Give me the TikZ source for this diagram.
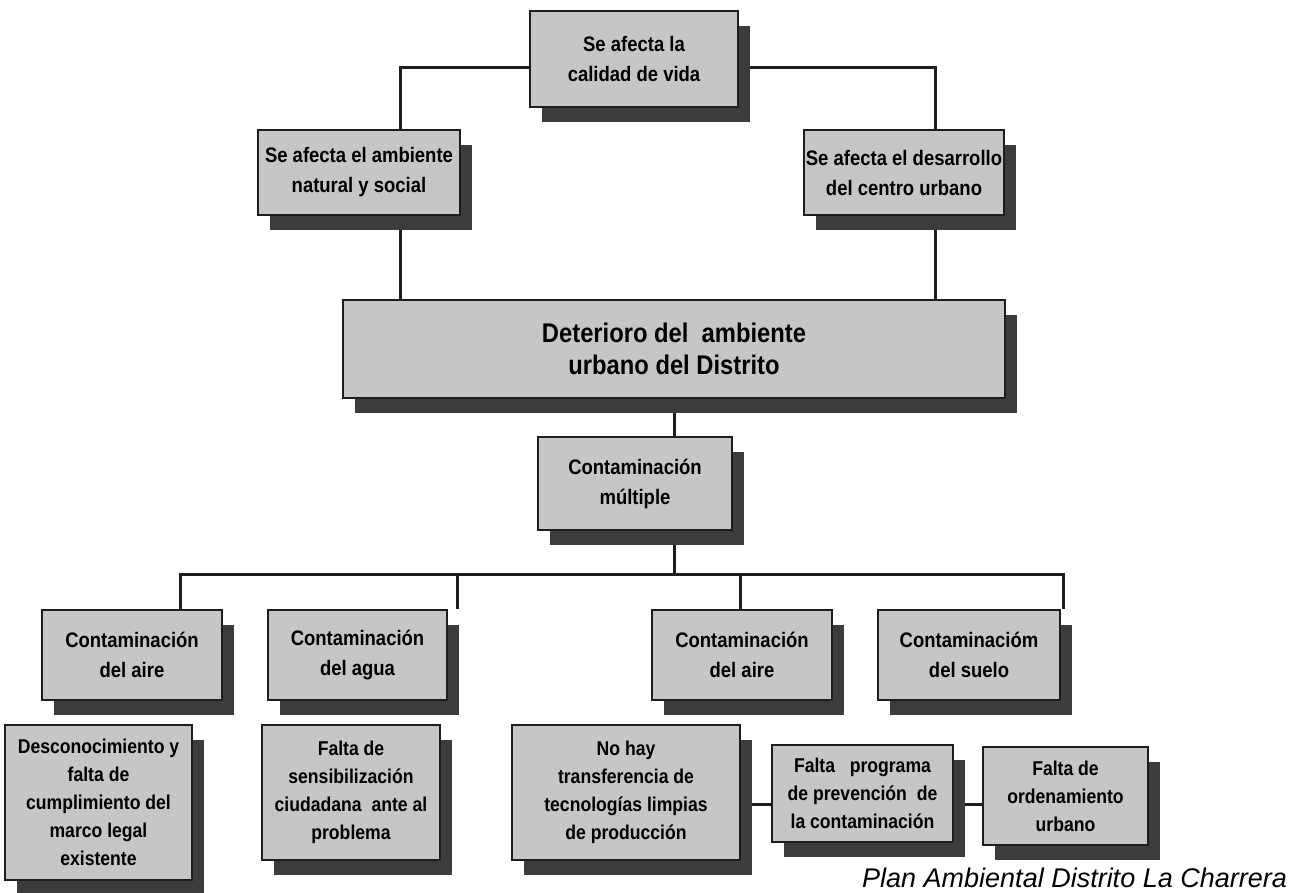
\documentclass[tikz,border=0pt]{standalone}
\usepackage{fontspec}
\setmainfont{Liberation Sans}
\newfontfamily\cond{Liberation Sans}[FakeStretch=0.88]
\usetikzlibrary{shadows}
\pgfdeclarelayer{background}
\pgfsetlayers{background,main}
\definecolor{boxgray}{HTML}{C6C6C6}
\definecolor{shadowgray}{HTML}{3C3C3C}
\definecolor{linegray}{HTML}{1E1E1E}
\begin{document}
\begin{tikzpicture}[x=1pt,y=1pt,
  box/.style={draw=linegray, line width=2pt, fill=boxgray, align=center, inner sep=2pt,
    font=\cond\bfseries\fontsize{21}{30}\selectfont,
    drop shadow={shadow xshift=12pt, shadow yshift=-15pt, fill=shadowgray, opacity=1}},
  smalltext/.style={font=\cond\bfseries\fontsize{20}{28}\selectfont},
  bigtext/.style={font=\cond\bfseries\fontsize{27}{32}\selectfont},
  conn/.style={draw=linegray, line width=3pt}]
\useasboundingbox (0,0) rectangle (1316,892);

\node[box, minimum width=208pt, minimum height=96pt] (T) at (634,833) {Se afecta la\\calidad de vida};
\node[box, minimum width=202pt, minimum height=85pt] (L1) at (359,719.5) {Se afecta el ambiente\\natural y social};
\node[box, minimum width=192pt, minimum height=85pt] (R1) at (904,719.5) {Se afecta el desarrollo\\del centro urbano};
\node[box, bigtext, minimum width=662pt, minimum height=98pt] (D) at (674,543) {Deterioro del \ ambiente\\urbano del Distrito};
\node[box, minimum width=194pt, minimum height=93pt] (M) at (635,408.5) {Contaminación\\múltiple};

\node[box, minimum width=180pt, minimum height=90pt] (C1) at (132,237) {Contaminación\\del aire};
\node[box, minimum width=179pt, minimum height=90pt] (C2) at (357.5,237) {Contaminación\\del agua};
\node[box, minimum width=180pt, minimum height=90pt] (C3) at (742,237) {Contaminación\\del aire};
\node[box, minimum width=182pt, minimum height=90pt] (C4) at (969,237) {Contaminacióm\\del suelo};

\node[box, smalltext, minimum width=187pt, minimum height=155pt] (B1) at (98.5,89.5) {Desconocimiento y\\falta de\\cumplimiento del\\marco legal\\existente};
\node[box, smalltext, minimum width=178pt, minimum height=135pt] (B2) at (351,99.5) {Falta de\\sensibilización\\ciudadana \ ante al\\problema};
\node[box, smalltext, minimum width=228pt, minimum height=135pt] (B3) at (626,99.5) {No hay\\transferencia de\\tecnologías limpias\\de producción};
\node[box, smalltext, minimum width=181pt, minimum height=97pt] (B4) at (862.5,98.5) {Falta \ \ programa\\de prevención \ de\\la contaminación};
\node[box, smalltext, minimum width=165pt, minimum height=98pt] (B5) at (1065.5,96) {Falta de\\ordenamiento\\urbano};

\node[anchor=base west, inner sep=0, font=\itshape\fontsize{27}{30}\selectfont] (foot) at (862,5) {Plan Ambiental Distrito La Charrera};

\coordinate (bus) at (674,317);

\begin{pgfonlayer}{background}
\fill[white] (0,0) rectangle (1316,892);
\draw[conn] ([yshift=-9pt]T.west) -| ([xshift=41pt]L1.north);
\draw[conn] ([yshift=-9pt]T.east) -| ([xshift=31pt]R1.north);
\draw[conn] ([xshift=41pt]L1.south) -- ([xshift=41pt]L1.south |- D.north);
\draw[conn] ([xshift=31pt]R1.south) -- ([xshift=31pt]R1.south |- D.north);
\draw[conn] (D.south) -- (D.south |- M.north);
\draw[conn] (D.south |- M.south) -- (bus);
\draw[conn] ([xshift=48pt]C1.north) |- (bus) -| ([xshift=94pt]C4.north);
\draw[conn] ([xshift=99.5pt]C2.north) -- ([xshift=99.5pt]C2.north |- bus);
\draw[conn] ([xshift=-2pt]C3.north) -- ([xshift=-2pt]C3.north |- bus);
\draw[conn] ([yshift=-12pt]B3.east) -- ([yshift=-12pt]B3.east -| B4.west);
\draw[conn] ([yshift=-12pt]B3.east -| B4.east) -- ([yshift=-12pt]B3.east -| B5.west);
\end{pgfonlayer}
\end{tikzpicture}
\end{document}
